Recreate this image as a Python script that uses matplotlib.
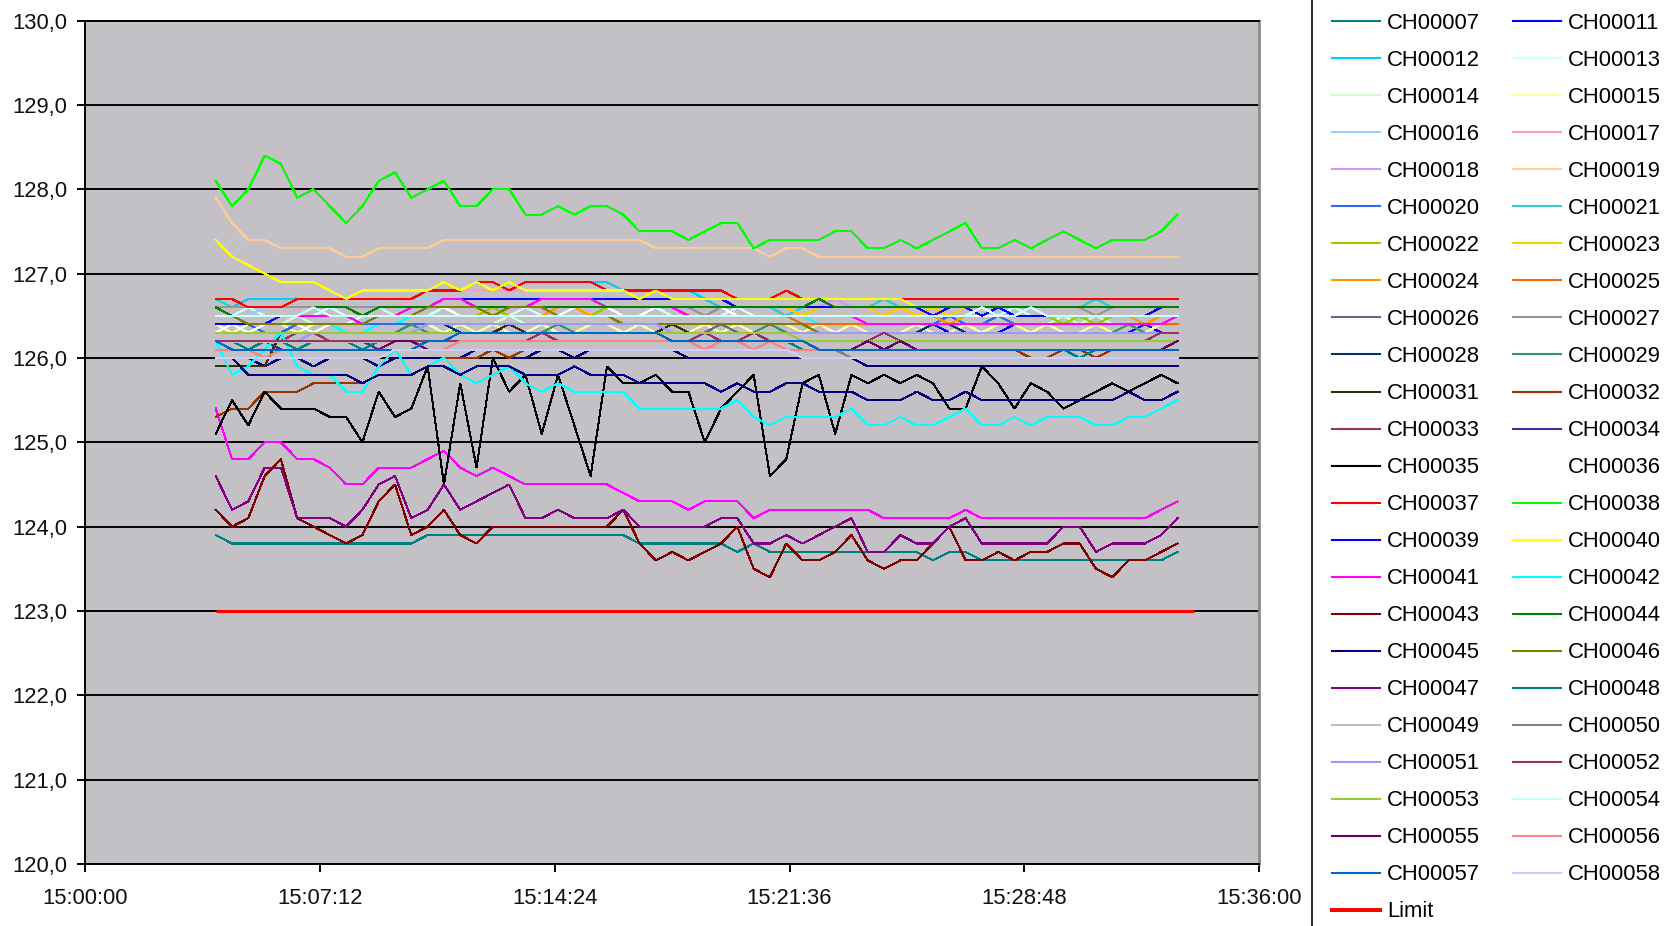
import matplotlib
matplotlib.use("Agg")
import matplotlib.pyplot as plt
from matplotlib.lines import Line2D
from matplotlib.ticker import FixedLocator, FuncFormatter

plt.rcParams['font.family'] = ['Liberation Sans', 'DejaVu Sans']

# Sample clock: one reading every 30 s, 15:04:00 .. 15:33:30 (seconds after 15:00:00)
START_S = 240
STEP_S = 30
N_SAMPLES = 60
times = [START_S + STEP_S * k for k in range(N_SAMPLES)]
LIMIT_VALUE = 123.0
limit_times = [240, 2040]

# ---- channel readings -------------------------------------------------------
CH00007 = [123.9,123.8,123.8,123.8,123.8,123.8,123.8,123.8,123.8,123.8,
           123.8,123.8,123.8,123.9,123.9,123.9,123.9,123.9,123.9,123.9,
           123.9,123.9,123.9,123.9,123.9,123.9,123.8,123.8,123.8,123.8,
           123.8,123.8,123.7,123.8,123.7,123.7,123.7,123.7,123.7,123.7,
           123.7,123.7,123.7,123.7,123.6,123.7,123.7,123.6,123.6,123.6,
           123.6,123.6,123.6,123.6,123.6,123.6,123.6,123.6,123.6,123.7]
CH00011 = [126.3,126.3,126.3,126.4,126.4,126.3,126.3,126.3,126.3,126.3,
           126.3,126.3,126.3,126.4,126.4,126.3,126.3,126.3,126.3,126.3,
           126.3,126.3,126.3,126.3,126.3,126.3,126.3,126.3,126.3,126.3,
           126.3,126.3,126.3,126.3,126.3,126.3,126.3,126.3,126.3,126.3,
           126.3,126.3,126.3,126.3,126.4,126.3,126.4,126.3,126.3,126.4,
           126.3,126.3,126.3,126.3,126.3,126.3,126.3,126.4,126.3,126.3]
CH00012 = [126.6,126.6,126.7,126.7,126.7,126.7,126.7,126.7,126.7,126.7,
           126.7,126.7,126.7,126.8,126.8,126.8,126.8,126.8,126.8,126.9,
           126.9,126.9,126.9,126.9,126.9,126.8,126.8,126.8,126.8,126.8,
           126.7,126.6,126.6,126.6,126.6,126.6,126.6,126.6,126.6,126.6,
           126.6,126.6,126.6,126.6,126.6,126.6,126.6,126.6,126.6,126.6,
           126.6,126.6,126.6,126.6,126.6,126.6,126.6,126.6,126.6,126.6]
CH00013 = [126.5,126.5,126.6,126.5,126.5,126.5,126.5,126.6,126.5,126.5,
           126.6,126.5,126.5,126.5,126.6,126.5,126.5,126.5,126.5,126.6,
           126.5,126.5,126.6,126.5,126.5,126.5,126.5,126.6,126.5,126.5,
           126.5,126.5,126.6,126.5,126.5,126.5,126.5,126.5,126.5,126.5,
           126.5,126.5,126.5,126.5,126.5,126.5,126.5,126.6,126.5,126.6,
           126.5,126.5,126.5,126.5,126.5,126.5,126.5,126.5,126.5,126.5]
CH00014 = [126.4,126.4,126.4,126.4,126.4,126.5,126.4,126.4,126.4,126.4,
           126.4,126.4,126.4,126.4,126.4,126.4,126.4,126.4,126.5,126.4,
           126.4,126.4,126.4,126.4,126.4,126.4,126.4,126.4,126.4,126.4,
           126.4,126.4,126.4,126.4,126.4,126.4,126.4,126.4,126.4,126.4,
           126.4,126.4,126.4,126.4,126.4,126.4,126.4,126.4,126.4,126.4,
           126.4,126.4,126.5,126.4,126.5,126.4,126.4,126.4,126.4,126.4]
CH00015 = [126.4,126.3,126.4,126.4,126.4,126.3,126.4,126.4,126.4,126.4,
           126.4,126.4,126.4,126.4,126.3,126.4,126.3,126.4,126.3,126.3,
           126.4,126.3,126.3,126.4,126.4,126.3,126.4,126.3,126.4,126.3,
           126.4,126.3,126.4,126.3,126.4,126.4,126.3,126.4,126.3,126.4,
           126.3,126.3,126.3,126.4,126.3,126.3,126.4,126.3,126.4,126.4,
           126.3,126.4,126.3,126.3,126.4,126.3,126.4,126.3,126.4,126.4]
CH00016 = [126.5,126.5,126.5,126.6,126.6,126.6,126.6,126.6,126.6,126.6,
           126.7,126.7,126.7,126.7,126.7,126.7,126.7,126.7,126.7,126.7,
           126.7,126.7,126.7,126.7,126.6,126.6,126.6,126.6,126.6,126.6,
           126.6,126.6,126.5,126.5,126.5,126.5,126.5,126.5,126.5,126.5,
           126.5,126.5,126.5,126.5,126.5,126.5,126.5,126.5,126.5,126.5,
           126.5,126.5,126.5,126.5,126.5,126.5,126.5,126.5,126.5,126.5]
CH00017 = [126.6,126.6,126.6,126.6,126.6,126.6,126.6,126.6,126.6,126.6,
           126.6,126.6,126.7,126.8,126.8,126.8,126.8,126.8,126.8,126.8,
           126.8,126.8,126.8,126.8,126.8,126.8,126.8,126.8,126.8,126.8,
           126.8,126.8,126.7,126.7,126.7,126.7,126.7,126.7,126.7,126.7,
           126.7,126.7,126.7,126.7,126.7,126.7,126.7,126.7,126.7,126.7,
           126.7,126.7,126.7,126.7,126.7,126.7,126.7,126.7,126.7,126.7]
CH00018 = [126.6,126.6,126.6,126.6,126.6,126.6,126.6,126.6,126.6,126.6,
           126.6,126.6,126.6,126.6,126.6,126.6,126.6,126.6,126.6,126.6,
           126.6,126.6,126.6,126.6,126.6,126.6,126.6,126.6,126.6,126.6,
           126.6,126.6,126.6,126.6,126.6,126.6,126.6,126.6,126.7,126.6,
           126.6,126.6,126.6,126.6,126.6,126.6,126.6,126.6,126.6,126.6,
           126.6,126.6,126.6,126.6,126.6,126.6,126.6,126.6,126.6,126.6]
CH00019 = [127.9,127.6,127.4,127.4,127.3,127.3,127.3,127.3,127.2,127.2,
           127.3,127.3,127.3,127.3,127.4,127.4,127.4,127.4,127.4,127.4,
           127.4,127.4,127.4,127.4,127.4,127.4,127.4,127.3,127.3,127.3,
           127.3,127.3,127.3,127.3,127.2,127.3,127.3,127.2,127.2,127.2,
           127.2,127.2,127.2,127.2,127.2,127.2,127.2,127.2,127.2,127.2,
           127.2,127.2,127.2,127.2,127.2,127.2,127.2,127.2,127.2,127.2]
CH00020 = [126.4,126.4,126.4,126.3,126.3,126.4,126.4,126.4,126.4,126.4,
           126.4,126.4,126.4,126.4,126.4,126.4,126.4,126.4,126.4,126.4,
           126.4,126.4,126.4,126.4,126.4,126.4,126.4,126.4,126.4,126.4,
           126.4,126.4,126.4,126.4,126.4,126.4,126.4,126.4,126.4,126.4,
           126.4,126.4,126.4,126.4,126.4,126.5,126.4,126.4,126.5,126.4,
           126.4,126.4,126.4,126.4,126.4,126.4,126.4,126.4,126.4,126.4]
CH00021 = [126.7,126.6,126.6,126.6,126.6,126.6,126.6,126.6,126.6,126.6,
           126.6,126.6,126.6,126.6,126.6,126.6,126.6,126.6,126.6,126.6,
           126.6,126.6,126.6,126.6,126.6,126.6,126.6,126.6,126.6,126.6,
           126.6,126.6,126.6,126.6,126.6,126.5,126.6,126.6,126.6,126.6,
           126.6,126.7,126.6,126.6,126.5,126.6,126.6,126.6,126.6,126.5,
           126.6,126.6,126.6,126.6,126.7,126.6,126.6,126.6,126.6,126.6]
CH00022 = [126.5,126.5,126.5,126.5,126.5,126.5,126.5,126.5,126.5,126.5,
           126.5,126.5,126.5,126.5,126.5,126.5,126.5,126.6,126.5,126.5,
           126.5,126.5,126.5,126.5,126.6,126.5,126.5,126.5,126.5,126.5,
           126.5,126.5,126.5,126.5,126.5,126.5,126.5,126.5,126.5,126.5,
           126.5,126.5,126.5,126.5,126.5,126.5,126.5,126.5,126.5,126.5,
           126.5,126.5,126.4,126.5,126.4,126.5,126.5,126.5,126.5,126.5]
CH00023 = [126.6,126.6,126.6,126.6,126.6,126.6,126.6,126.6,126.6,126.6,
           126.6,126.6,126.6,126.6,126.6,126.6,126.6,126.6,126.6,126.6,
           126.6,126.6,126.6,126.6,126.6,126.6,126.6,126.6,126.6,126.6,
           126.6,126.6,126.6,126.6,126.6,126.6,126.5,126.6,126.6,126.6,
           126.6,126.5,126.6,126.5,126.6,126.5,126.6,126.6,126.6,126.6,
           126.6,126.6,126.6,126.6,126.6,126.6,126.6,126.6,126.6,126.6]
CH00024 = [126.5,126.5,126.5,126.5,126.5,126.5,126.5,126.5,126.5,126.5,
           126.5,126.5,126.5,126.5,126.5,126.5,126.5,126.5,126.5,126.5,
           126.5,126.6,126.6,126.5,126.5,126.5,126.5,126.5,126.5,126.5,
           126.5,126.5,126.5,126.5,126.5,126.5,126.5,126.5,126.5,126.5,
           126.5,126.5,126.5,126.5,126.5,126.4,126.5,126.5,126.5,126.5,
           126.5,126.5,126.5,126.5,126.5,126.5,126.5,126.4,126.5,126.5]
CH00025 = [126.5,126.5,126.5,126.5,126.5,126.5,126.5,126.5,126.5,126.5,
           126.5,126.5,126.5,126.5,126.5,126.5,126.5,126.5,126.5,126.5,
           126.5,126.5,126.5,126.5,126.5,126.5,126.5,126.5,126.5,126.5,
           126.5,126.5,126.5,126.5,126.5,126.5,126.4,126.4,126.4,126.4,
           126.4,126.4,126.4,126.4,126.4,126.4,126.4,126.4,126.4,126.4,
           126.4,126.4,126.4,126.4,126.4,126.4,126.4,126.4,126.4,126.4]
CH00026 = [126.3,126.4,126.3,126.3,126.3,126.3,126.3,126.3,126.3,126.3,
           126.3,126.3,126.3,126.3,126.3,126.3,126.3,126.3,126.3,126.3,
           126.3,126.3,126.3,126.3,126.3,126.3,126.3,126.3,126.3,126.3,
           126.3,126.4,126.3,126.3,126.3,126.3,126.3,126.3,126.3,126.3,
           126.3,126.3,126.3,126.3,126.3,126.3,126.3,126.3,126.3,126.3,
           126.3,126.3,126.3,126.3,126.3,126.3,126.4,126.3,126.3,126.3]
CH00027 = [126.6,126.6,126.6,126.6,126.6,126.6,126.6,126.6,126.6,126.6,
           126.6,126.6,126.6,126.6,126.6,126.6,126.6,126.6,126.6,126.6,
           126.6,126.6,126.6,126.6,126.6,126.6,126.6,126.6,126.6,126.6,
           126.5,126.6,126.6,126.6,126.6,126.6,126.6,126.6,126.6,126.6,
           126.6,126.6,126.6,126.6,126.6,126.6,126.6,126.6,126.6,126.6,
           126.6,126.6,126.6,126.6,126.5,126.6,126.6,126.6,126.6,126.6]
CH00028 = [126.3,126.3,126.3,126.3,126.3,126.3,126.3,126.3,126.3,126.3,
           126.3,126.3,126.3,126.4,126.4,126.3,126.3,126.3,126.3,126.3,
           126.3,126.3,126.3,126.3,126.3,126.3,126.3,126.3,126.3,126.3,
           126.3,126.3,126.3,126.3,126.3,126.3,126.3,126.3,126.3,126.3,
           126.3,126.3,126.3,126.3,126.4,126.4,126.3,126.3,126.3,126.3,
           126.3,126.3,126.3,126.3,126.3,126.3,126.3,126.3,126.3,126.3]
CH00029 = [126.3,126.3,126.3,126.3,126.3,126.3,126.3,126.3,126.3,126.3,
           126.3,126.3,126.4,126.3,126.3,126.3,126.3,126.3,126.3,126.3,
           126.3,126.4,126.3,126.3,126.3,126.3,126.3,126.3,126.3,126.3,
           126.3,126.3,126.3,126.3,126.4,126.3,126.3,126.3,126.3,126.3,
           126.3,126.3,126.3,126.3,126.3,126.3,126.3,126.3,126.3,126.3,
           126.3,126.3,126.3,126.3,126.3,126.3,126.4,126.3,126.3,126.3]
CH00031 = [125.9,125.9,125.9,125.9,126.3,126.3,126.3,126.3,126.3,126.3,
           126.3,126.3,126.3,126.3,126.3,126.3,126.3,126.3,126.4,126.3,
           126.3,126.3,126.3,126.3,126.3,126.3,126.3,126.3,126.4,126.3,
           126.3,126.3,126.3,126.3,126.3,126.3,126.3,126.3,126.3,126.3,
           126.3,126.3,126.3,126.3,126.3,126.3,126.3,126.3,126.3,126.3,
           126.3,126.3,126.3,126.3,126.3,126.3,126.3,126.3,126.3,126.3]
CH00032 = [125.3,125.4,125.4,125.6,125.6,125.6,125.7,125.7,125.7,125.7,
           125.8,125.8,125.8,125.9,126.0,126.0,126.0,126.1,126.0,126.1,
           126.1,126.1,126.1,126.1,126.1,126.1,126.1,126.1,126.1,126.1,
           126.1,126.1,126.1,126.1,126.1,126.1,126.1,126.1,126.1,126.1,
           126.1,126.1,126.1,126.1,126.1,126.1,126.1,126.1,126.1,126.1,
           126.0,126.0,126.1,126.1,126.0,126.1,126.1,126.1,126.1,126.1]
CH00033 = [126.2,126.2,126.2,126.2,126.2,126.3,126.3,126.2,126.2,126.2,
           126.2,126.2,126.2,126.2,126.2,126.2,126.2,126.2,126.2,126.2,
           126.3,126.2,126.2,126.2,126.2,126.2,126.2,126.2,126.2,126.2,
           126.2,126.2,126.2,126.2,126.2,126.2,126.2,126.2,126.2,126.2,
           126.2,126.2,126.2,126.2,126.2,126.2,126.2,126.2,126.2,126.2,
           126.2,126.2,126.2,126.2,126.2,126.2,126.2,126.2,126.2,126.2]
CH00034 = [126.2,126.2,126.2,126.2,126.1,126.1,126.2,126.2,126.2,126.2,
           126.1,126.2,126.2,126.2,126.2,126.2,126.2,126.2,126.2,126.2,
           126.2,126.2,126.2,126.2,126.2,126.2,126.2,126.2,126.2,126.2,
           126.2,126.2,126.2,126.2,126.2,126.2,126.2,126.2,126.2,126.2,
           126.2,126.2,126.2,126.2,126.2,126.2,126.2,126.2,126.2,126.2,
           126.2,126.2,126.2,126.2,126.2,126.2,126.2,126.2,126.2,126.2]
CH00035 = [125.1,125.5,125.2,125.6,125.4,125.4,125.4,125.3,125.3,125.0,
           125.6,125.3,125.4,125.9,124.5,125.7,124.7,126.0,125.6,125.8,
           125.1,125.8,125.2,124.6,125.9,125.7,125.7,125.8,125.6,125.6,
           125.0,125.4,125.6,125.8,124.6,124.8,125.7,125.8,125.1,125.8,
           125.7,125.8,125.7,125.8,125.7,125.4,125.4,125.9,125.7,125.4,
           125.7,125.6,125.4,125.5,125.6,125.7,125.6,125.7,125.8,125.7]
CH00036 = [126.3,126.4,126.3,126.4,126.4,126.4,126.3,126.4,126.4,126.5,
           126.5,126.5,126.6,126.6,126.6,126.5,126.5,126.5,126.5,126.5,
           126.5,126.5,126.6,126.6,126.6,126.5,126.5,126.6,126.6,126.6,
           126.6,126.6,126.5,126.5,126.5,126.5,126.5,126.5,126.5,126.5,
           126.5,126.5,126.5,126.5,126.5,126.5,126.5,126.5,126.5,126.5,
           126.5,126.5,126.5,126.5,126.5,126.5,126.5,126.5,126.5,126.5]
CH00037 = [126.7,126.7,126.6,126.6,126.6,126.7,126.7,126.7,126.7,126.7,
           126.7,126.7,126.7,126.8,126.8,126.8,126.9,126.9,126.8,126.9,
           126.9,126.9,126.9,126.9,126.8,126.8,126.8,126.8,126.8,126.8,
           126.8,126.8,126.7,126.7,126.7,126.8,126.7,126.7,126.7,126.7,
           126.7,126.7,126.7,126.7,126.7,126.7,126.7,126.7,126.7,126.7,
           126.7,126.7,126.7,126.7,126.7,126.7,126.7,126.7,126.7,126.7]
CH00038 = [128.1,127.8,128.0,128.4,128.3,127.9,128.0,127.8,127.6,127.8,
           128.1,128.2,127.9,128.0,128.1,127.8,127.8,128.0,128.0,127.7,
           127.7,127.8,127.7,127.8,127.8,127.7,127.5,127.5,127.5,127.4,
           127.5,127.6,127.6,127.3,127.4,127.4,127.4,127.4,127.5,127.5,
           127.3,127.3,127.4,127.3,127.4,127.5,127.6,127.3,127.3,127.4,
           127.3,127.4,127.5,127.4,127.3,127.4,127.4,127.4,127.5,127.7]
CH00039 = [126.4,126.4,126.4,126.4,126.5,126.5,126.5,126.5,126.5,126.4,
           126.5,126.5,126.5,126.6,126.7,126.7,126.7,126.7,126.7,126.7,
           126.7,126.7,126.7,126.7,126.7,126.7,126.7,126.7,126.7,126.7,
           126.7,126.7,126.6,126.6,126.6,126.6,126.6,126.6,126.6,126.6,
           126.6,126.6,126.6,126.6,126.5,126.6,126.6,126.5,126.6,126.5,
           126.5,126.5,126.5,126.5,126.5,126.5,126.5,126.5,126.6,126.6]
CH00040 = [127.4,127.2,127.1,127.0,126.9,126.9,126.9,126.8,126.7,126.8,
           126.8,126.8,126.8,126.8,126.9,126.8,126.9,126.8,126.9,126.8,
           126.8,126.8,126.8,126.8,126.8,126.8,126.7,126.8,126.7,126.7,
           126.7,126.7,126.7,126.7,126.7,126.7,126.7,126.7,126.7,126.7,
           126.7,126.7,126.7,126.6,126.6,126.6,126.6,126.6,126.6,126.6,
           126.6,126.6,126.6,126.6,126.6,126.6,126.6,126.6,126.6,126.6]
CH00041 = [126.5,126.5,126.5,126.5,126.5,126.5,126.5,126.5,126.5,126.4,
           126.5,126.5,126.6,126.6,126.7,126.7,126.6,126.6,126.6,126.6,
           126.7,126.7,126.7,126.7,126.6,126.6,126.6,126.6,126.6,126.5,
           126.5,126.5,126.5,126.5,126.5,126.5,126.5,126.5,126.5,126.5,
           126.4,126.4,126.4,126.4,126.4,126.4,126.4,126.4,126.4,126.4,
           126.4,126.4,126.4,126.4,126.4,126.4,126.4,126.4,126.4,126.5]
CH00042 = [126.2,125.8,125.9,126.1,126.3,125.9,125.8,125.8,125.6,125.6,
           125.9,126.1,125.8,125.9,126.0,125.8,125.7,125.8,125.9,125.7,
           125.6,125.7,125.6,125.6,125.6,125.6,125.4,125.4,125.4,125.4,
           125.4,125.4,125.5,125.3,125.2,125.3,125.3,125.3,125.3,125.4,
           125.2,125.2,125.3,125.2,125.2,125.3,125.4,125.2,125.2,125.3,
           125.2,125.3,125.3,125.3,125.2,125.2,125.3,125.3,125.4,125.5]
CH00043 = [124.2,124.0,124.1,124.6,124.8,124.1,124.0,123.9,123.8,123.9,
           124.3,124.5,123.9,124.0,124.2,123.9,123.8,124.0,124.0,124.0,
           124.0,124.0,124.0,124.0,124.0,124.2,123.8,123.6,123.7,123.6,
           123.7,123.8,124.0,123.5,123.4,123.8,123.6,123.6,123.7,123.9,
           123.6,123.5,123.6,123.6,123.8,124.0,123.6,123.6,123.7,123.6,
           123.7,123.7,123.8,123.8,123.5,123.4,123.6,123.6,123.7,123.8]
CH00044 = [126.6,126.5,126.5,126.5,126.5,126.5,126.6,126.6,126.6,126.5,
           126.6,126.6,126.6,126.6,126.6,126.6,126.6,126.6,126.6,126.6,
           126.6,126.6,126.6,126.6,126.6,126.6,126.6,126.6,126.6,126.6,
           126.6,126.6,126.6,126.6,126.6,126.6,126.6,126.7,126.6,126.6,
           126.6,126.6,126.6,126.6,126.6,126.6,126.6,126.6,126.6,126.6,
           126.6,126.6,126.6,126.6,126.6,126.6,126.6,126.6,126.6,126.6]
CH00045 = [126.0,126.0,125.8,125.8,125.8,125.8,125.8,125.8,125.8,125.7,
           125.8,125.8,125.8,125.9,125.9,125.8,125.9,125.9,125.9,125.8,
           125.8,125.8,125.9,125.8,125.8,125.8,125.7,125.7,125.7,125.7,
           125.7,125.6,125.7,125.6,125.6,125.7,125.7,125.6,125.6,125.6,
           125.5,125.5,125.5,125.6,125.5,125.5,125.6,125.5,125.5,125.5,
           125.5,125.5,125.5,125.5,125.5,125.5,125.6,125.5,125.5,125.6]
CH00046 = [126.5,126.5,126.4,126.4,126.4,126.4,126.4,126.4,126.4,126.4,
           126.5,126.5,126.5,126.6,126.6,126.6,126.6,126.5,126.6,126.6,
           126.6,126.5,126.5,126.5,126.5,126.4,126.4,126.4,126.4,126.4,
           126.4,126.4,126.4,126.4,126.4,126.4,126.4,126.3,126.3,126.3,
           126.3,126.3,126.3,126.3,126.3,126.3,126.3,126.3,126.3,126.3,
           126.3,126.3,126.3,126.3,126.3,126.3,126.3,126.3,126.3,126.3]
CH00047 = [124.6,124.2,124.3,124.7,124.7,124.1,124.1,124.1,124.0,124.2,
           124.5,124.6,124.1,124.2,124.5,124.2,124.3,124.4,124.5,124.1,
           124.1,124.2,124.1,124.1,124.1,124.2,124.0,124.0,124.0,124.0,
           124.0,124.1,124.1,123.8,123.8,123.9,123.8,123.9,124.0,124.1,
           123.7,123.7,123.9,123.8,123.8,124.0,124.1,123.8,123.8,123.8,
           123.8,123.8,124.0,124.0,123.7,123.8,123.8,123.8,123.9,124.1]
CH00048 = [126.2,126.2,126.1,126.2,126.2,126.1,126.2,126.2,126.2,126.1,
           126.2,126.2,126.2,126.2,126.2,126.2,126.2,126.2,126.2,126.2,
           126.2,126.2,126.2,126.2,126.2,126.2,126.2,126.2,126.2,126.2,
           126.2,126.2,126.2,126.2,126.2,126.2,126.1,126.1,126.1,126.1,
           126.1,126.1,126.1,126.1,126.1,126.1,126.1,126.1,126.1,126.1,
           126.1,126.1,126.1,126.0,126.1,126.1,126.1,126.1,126.1,126.1]
CH00049 = [126.2,126.2,126.2,126.2,126.2,126.2,126.2,126.2,126.2,126.2,
           126.2,126.2,126.2,126.2,126.2,126.2,126.2,126.2,126.2,126.2,
           126.2,126.2,126.2,126.2,126.2,126.2,126.2,126.2,126.2,126.2,
           126.2,126.2,126.2,126.2,126.2,126.2,126.2,126.2,126.2,126.2,
           126.2,126.2,126.2,126.2,126.2,126.2,126.2,126.2,126.2,126.2,
           126.2,126.2,126.2,126.2,126.2,126.2,126.2,126.2,126.2,126.2]
CH00050 = [126.1,126.1,126.1,126.1,126.1,126.1,126.1,126.1,126.1,126.1,
           126.1,126.1,126.1,126.1,126.1,126.1,126.1,126.1,126.1,126.1,
           126.1,126.1,126.1,126.1,126.1,126.1,126.1,126.1,126.1,126.1,
           126.1,126.1,126.1,126.1,126.1,126.1,126.1,126.1,126.1,126.0,
           126.0,126.0,126.0,126.0,126.0,126.0,126.0,126.0,126.0,126.0,
           126.0,126.0,126.0,126.0,126.0,126.0,126.0,126.0,126.0,126.0]
CH00051 = [126.2,126.2,126.2,126.2,126.2,126.2,126.3,126.3,126.3,126.3,
           126.3,126.3,126.3,126.4,126.4,126.4,126.4,126.4,126.4,126.4,
           126.4,126.4,126.4,126.4,126.4,126.4,126.4,126.4,126.3,126.3,
           126.3,126.3,126.3,126.3,126.3,126.3,126.3,126.3,126.3,126.3,
           126.3,126.3,126.3,126.3,126.3,126.3,126.3,126.3,126.3,126.3,
           126.3,126.3,126.3,126.3,126.3,126.3,126.3,126.3,126.3,126.3]
CH00052 = [126.2,126.2,126.2,126.2,126.2,126.2,126.2,126.2,126.2,126.2,
           126.2,126.2,126.2,126.2,126.2,126.2,126.2,126.2,126.2,126.2,
           126.2,126.2,126.2,126.2,126.2,126.2,126.2,126.2,126.2,126.2,
           126.3,126.2,126.2,126.3,126.2,126.2,126.2,126.2,126.2,126.2,
           126.2,126.3,126.2,126.2,126.2,126.2,126.2,126.2,126.2,126.2,
           126.2,126.2,126.2,126.2,126.2,126.2,126.2,126.2,126.3,126.3]
CH00053 = [126.3,126.3,126.3,126.3,126.3,126.3,126.3,126.3,126.3,126.3,
           126.3,126.3,126.3,126.3,126.3,126.3,126.3,126.3,126.3,126.3,
           126.3,126.3,126.3,126.3,126.3,126.3,126.3,126.3,126.3,126.3,
           126.3,126.3,126.3,126.3,126.3,126.3,126.2,126.2,126.2,126.2,
           126.2,126.2,126.2,126.2,126.2,126.2,126.2,126.2,126.2,126.2,
           126.2,126.2,126.2,126.2,126.2,126.2,126.2,126.2,126.2,126.2]
CH00054 = [126.5,126.5,126.5,126.5,126.5,126.5,126.6,126.5,126.5,126.5,
           126.5,126.5,126.5,126.5,126.5,126.5,126.5,126.5,126.5,126.5,
           126.5,126.5,126.5,126.5,126.5,126.5,126.5,126.5,126.5,126.5,
           126.5,126.5,126.5,126.5,126.5,126.5,126.5,126.5,126.5,126.5,
           126.5,126.5,126.5,126.5,126.5,126.5,126.5,126.6,126.5,126.5,
           126.6,126.5,126.5,126.5,126.5,126.5,126.5,126.5,126.5,126.5]
CH00055 = [126.1,126.1,126.1,126.1,126.1,126.1,126.1,126.1,126.1,126.1,
           126.1,126.2,126.2,126.1,126.1,126.1,126.1,126.1,126.1,126.1,
           126.1,126.1,126.1,126.1,126.1,126.1,126.1,126.1,126.1,126.1,
           126.1,126.1,126.1,126.1,126.1,126.1,126.1,126.1,126.1,126.1,
           126.2,126.1,126.2,126.1,126.1,126.1,126.1,126.1,126.1,126.1,
           126.1,126.1,126.1,126.1,126.1,126.1,126.1,126.1,126.1,126.2]
CH00056 = [126.1,126.1,126.1,126.0,126.1,126.1,126.1,126.1,126.1,126.1,
           126.1,126.1,126.1,126.1,126.1,126.2,126.2,126.2,126.2,126.2,
           126.2,126.2,126.2,126.2,126.2,126.2,126.2,126.2,126.2,126.2,
           126.1,126.2,126.2,126.1,126.2,126.1,126.1,126.1,126.1,126.1,
           126.1,126.1,126.1,126.1,126.1,126.1,126.1,126.1,126.1,126.1,
           126.1,126.1,126.1,126.1,126.1,126.1,126.1,126.1,126.1,126.1]
CH00057 = [126.2,126.1,126.1,126.1,126.1,126.1,126.1,126.1,126.1,126.1,
           126.1,126.1,126.1,126.2,126.2,126.3,126.3,126.3,126.3,126.3,
           126.3,126.3,126.3,126.3,126.3,126.3,126.3,126.3,126.2,126.2,
           126.2,126.2,126.2,126.2,126.2,126.2,126.2,126.1,126.1,126.1,
           126.1,126.1,126.1,126.1,126.1,126.1,126.1,126.1,126.1,126.1,
           126.1,126.1,126.1,126.1,126.1,126.1,126.1,126.1,126.1,126.1]
CH00058 = [126.0,126.0,126.0,126.0,126.0,126.0,126.0,126.0,126.0,126.0,
           126.0,126.1,126.1,126.1,126.1,126.1,126.1,126.1,126.1,126.1,
           126.1,126.1,126.1,126.1,126.1,126.1,126.1,126.1,126.1,126.1,
           126.1,126.1,126.1,126.1,126.1,126.1,126.0,126.0,126.0,126.0,
           126.0,126.0,126.0,126.0,126.0,126.0,126.0,126.0,126.0,126.0,
           126.0,126.0,126.0,126.0,126.0,126.0,126.0,126.0,126.0,126.0]

# channels plotted without a legend entry
AUX_NAVY = [126.0,126.0,126.0,125.9,126.0,126.0,125.9,126.0,126.0,126.0,
            125.9,126.0,126.0,126.0,126.0,126.0,126.1,126.1,126.0,126.0,
            126.1,126.1,126.0,126.1,126.1,126.1,126.1,126.1,126.1,126.0,
            126.0,126.0,126.0,126.0,126.0,126.0,126.0,126.0,126.0,126.0,
            125.9,125.9,125.9,125.9,125.9,125.9,125.9,125.9,125.9,125.9,
            125.9,125.9,125.9,125.9,125.9,125.9,125.9,125.9,125.9,125.9]
AUX_PINK = [125.4,124.8,124.8,125.0,125.0,124.8,124.8,124.7,124.5,124.5,
            124.7,124.7,124.7,124.8,124.9,124.7,124.6,124.7,124.6,124.5,
            124.5,124.5,124.5,124.5,124.5,124.4,124.3,124.3,124.3,124.2,
            124.3,124.3,124.3,124.1,124.2,124.2,124.2,124.2,124.2,124.2,
            124.2,124.1,124.1,124.1,124.1,124.1,124.2,124.1,124.1,124.1,
            124.1,124.1,124.1,124.1,124.1,124.1,124.1,124.1,124.2,124.3]
AUX_TURQ = [126.4,126.4,126.3,126.4,126.4,126.4,126.4,126.4,126.3,126.3,
            126.4,126.4,126.5,126.6,126.6,126.6,126.6,126.5,126.6,126.6,
            126.5,126.5,126.5,126.5,126.5,126.5,126.5,126.5,126.5,126.5,
            126.5,126.5,126.5,126.5,126.5,126.5,126.5,126.4,126.4,126.4,
            126.4,126.4,126.4,126.4,126.4,126.4,126.4,126.4,126.4,126.4,
            126.4,126.4,126.4,126.4,126.4,126.4,126.4,126.4,126.4,126.4]

# (label, colour, readings) in plotting order; labels starting with "_" stay out of the legend
hidden = [("_aux1", "#000080", AUX_NAVY),
          ("_aux2", "#ff00ff", AUX_PINK),
          ("_aux4", "#00ffff", AUX_TURQ)]
channels = [
    ("CH00007", "#008080", CH00007), ("CH00011", "#0000ff", CH00011),
    ("CH00012", "#00ccff", CH00012), ("CH00013", "#ccffff", CH00013),
    ("CH00014", "#ccffcc", CH00014), ("CH00015", "#ffff99", CH00015),
    ("CH00016", "#99ccff", CH00016), ("CH00017", "#ff99cc", CH00017),
    ("CH00018", "#cc99ff", CH00018), ("CH00019", "#ffcc99", CH00019),
    ("CH00020", "#3366ff", CH00020), ("CH00021", "#33cccc", CH00021),
    ("CH00022", "#99cc00", CH00022), ("CH00023", "#ffcc00", CH00023),
    ("CH00024", "#ff9900", CH00024), ("CH00025", "#ff6600", CH00025),
    ("CH00026", "#666699", CH00026), ("CH00027", "#969696", CH00027),
    ("CH00028", "#003366", CH00028), ("CH00029", "#339966", CH00029),
    ("CH00031", "#333300", CH00031), ("CH00032", "#993300", CH00032),
    ("CH00033", "#993366", CH00033), ("CH00034", "#333399", CH00034),
    ("CH00035", "#000000", CH00035), ("CH00036", "#ffffff", CH00036),
    ("CH00037", "#ff0000", CH00037), ("CH00038", "#00ff00", CH00038),
    ("CH00039", "#0000ff", CH00039), ("CH00040", "#ffff00", CH00040),
    ("CH00041", "#ff00ff", CH00041), ("CH00042", "#00ffff", CH00042),
    ("CH00043", "#800000", CH00043), ("CH00044", "#008000", CH00044),
    ("CH00045", "#000080", CH00045), ("CH00046", "#808000", CH00046),
    ("CH00047", "#800080", CH00047), ("CH00048", "#008080", CH00048),
    ("CH00049", "#c0c0c0", CH00049), ("CH00050", "#808080", CH00050),
    ("CH00051", "#9999ff", CH00051), ("CH00052", "#993366", CH00052),
    ("CH00053", "#99cc33", CH00053), ("CH00054", "#ccffff", CH00054),
    ("CH00055", "#660066", CH00055), ("CH00056", "#ff8080", CH00056),
    ("CH00057", "#0066cc", CH00057), ("CH00058", "#ccccff", CH00058),
]

# ---- figure -----------------------------------------------------------------
W, H = 1671, 926
fig = plt.figure(figsize=(W / 100, H / 100), dpi=100)
ax = fig.add_axes([85.3 / W, 1 - 864 / H, (1259 - 85.3) / W, (864 - 20.6) / H])
ax.set_facecolor("#c3c1c6")

FS = 15.8
for name, col, vals in hidden + channels:
    ax.plot(times, vals, color=col, lw=0.75, antialiased=False, label=name,
            solid_joinstyle="miter", zorder=3)
ax.plot(limit_times, [LIMIT_VALUE] * len(limit_times), color="#ff0000", lw=2.2,
        label="Limit", zorder=4, solid_capstyle="butt")

ax.set_xlim(0, 2160)
ax.set_ylim(120, 130)


def clock(x, pos=None):
    s = int(round(x))
    return "15:%02d:%02d" % (s // 60, s % 60)


ax.xaxis.set_major_locator(FixedLocator([0, 432, 864, 1296, 1728, 2160]))
ax.xaxis.set_major_formatter(FuncFormatter(clock))
ax.yaxis.set_major_locator(FixedLocator(range(120, 131)))
ax.yaxis.set_major_formatter(FuncFormatter(lambda v, p: ("%.1f" % v).replace(".", ",")))
ax.grid(axis="y", color="black", lw=1.4, zorder=1)
ax.set_axisbelow(True)
ax.tick_params(axis="both", direction="out", length=6, width=1.4, color="black",
               labelsize=FS, labelcolor="#111111")
ax.tick_params(axis="x", pad=11.5)
ax.tick_params(axis="y", pad=7)
for side in ("left", "bottom", "top"):
    ax.spines[side].set_color("black")
    ax.spines[side].set_linewidth(1.4)
ax.spines["right"].set_color("#8c8c8c")
ax.spines["right"].set_linewidth(2)

# ---- legend: two columns filled row by row ------------------------------------
entries = [Line2D([], [], color=c, lw=1.5) for _, c, _ in channels]
names = [n for n, _, _ in channels]
entries.append(Line2D([], [], color="#ff0000", lw=2.9))
names.append("Limit")
order = list(range(0, len(names), 2)) + list(range(1, len(names), 2))
fig.legend([entries[k] for k in order], [names[k] for k in order],
           loc="upper left", bbox_to_anchor=(1332 / W, 1 - 13 / H), ncol=2,
           frameon=False, fontsize=FS, handlelength=2.18, handletextpad=0.32,
           labelspacing=0.73, columnspacing=1.5, borderpad=0, borderaxespad=0)
fig.add_artist(Line2D([1312 / W, 1312 / W], [0, 1], transform=fig.transFigure,
                      color="#333333", lw=1.5))

fig.savefig("out.png", dpi=100)
